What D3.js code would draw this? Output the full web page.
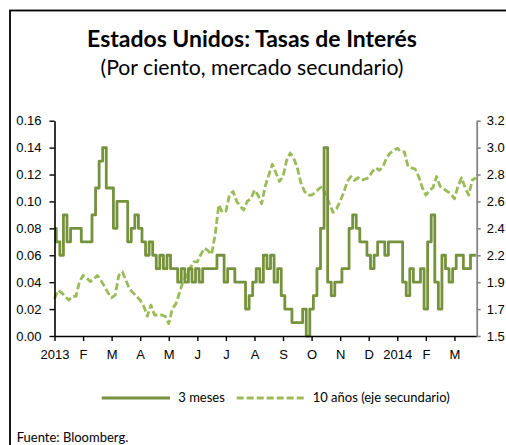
<!DOCTYPE html>
<html lang="es">
<head>
<meta charset="utf-8">
<title>Estados Unidos: Tasas de Interés</title>
<script src="https://cdn.jsdelivr.net/npm/d3@7/dist/d3.min.js"></script>
<style>
  html, body { margin: 0; padding: 0; background: #fff; }
  svg { display: block; font-family: Lato, "Open Sans", "Liberation Sans", sans-serif; }
  .axis text { font-size: 13px; fill: #000; }
  .legend text, .source { font-size: 13px; fill: #000; }
</style>
</head>
<body>
<svg id="chart" width="506" height="445"></svg>
<script>
  // ---- datos (~8 observaciones por mes, ene-2013 a mar-2014)
  const monthLabels = ["2013", "F", "M", "A", "M", "J", "J", "A", "S", "O", "N", "D", "2014", "F", "M"];
  const PER_MONTH = 8; // observaciones por mes en las series

  // 3 meses (eje izquierdo, %)
  const tres_meses = [
    0.08, 0.07, 0.06, 0.09, 0.07, 0.08, 0.08, 0.08, 0.07, 0.07,
    0.07, 0.09, 0.11, 0.13, 0.14, 0.11, 0.11, 0.08, 0.10, 0.10,
    0.10, 0.07, 0.08, 0.09, 0.08, 0.07, 0.06, 0.07, 0.06, 0.05,
    0.06, 0.05, 0.06, 0.05, 0.05, 0.04, 0.05, 0.04, 0.05, 0.04,
    0.05, 0.04, 0.05, 0.05, 0.05, 0.05, 0.06, 0.06, 0.04, 0.05,
    0.05, 0.04, 0.04, 0.04, 0.02, 0.03, 0.04, 0.05, 0.04, 0.06,
    0.05, 0.06, 0.04, 0.05, 0.03, 0.02, 0.02, 0.01, 0.01, 0.01,
    0.02, 0.00, 0.02, 0.03, 0.05, 0.08, 0.14, 0.04, 0.03, 0.04,
    0.04, 0.05, 0.05, 0.08, 0.09, 0.08, 0.07, 0.07, 0.06, 0.05,
    0.06, 0.07, 0.07, 0.06, 0.07, 0.07, 0.07, 0.07, 0.04, 0.03,
    0.05, 0.04, 0.04, 0.05, 0.02, 0.07, 0.09, 0.04, 0.02, 0.06,
    0.05, 0.04, 0.05, 0.06, 0.06, 0.05, 0.05, 0.06, 0.06,
  ];

  // 10 años (eje secundario, %)
  const diez_anos = [
    1.80, 1.87, 1.85, 1.82, 1.79, 1.82, 1.82, 1.94, 1.99, 1.97,
    1.94, 1.96, 1.99, 1.95, 1.90, 1.85, 1.81, 1.83, 1.99, 2.02,
    1.95, 1.88, 1.85, 1.82, 1.79, 1.74, 1.66, 1.75, 1.67, 1.67,
    1.67, 1.66, 1.60, 1.72, 1.76, 1.85, 1.94, 1.99, 2.05, 2.10,
    2.10, 2.16, 2.21, 2.19, 2.16, 2.32, 2.56, 2.50, 2.51, 2.64,
    2.67, 2.59, 2.55, 2.52, 2.59, 2.61, 2.68, 2.64, 2.57, 2.71,
    2.80, 2.89, 2.82, 2.75, 2.79, 2.92, 2.98, 2.94, 2.86, 2.74,
    2.67, 2.64, 2.64, 2.66, 2.69, 2.71, 2.64, 2.57, 2.50, 2.53,
    2.59, 2.66, 2.75, 2.79, 2.76, 2.78, 2.76, 2.77, 2.78, 2.83,
    2.86, 2.84, 2.87, 2.94, 2.98, 3.00, 3.02, 2.99, 2.99, 2.87,
    2.86, 2.85, 2.79, 2.70, 2.64, 2.68, 2.70, 2.79, 2.71, 2.69,
    2.67, 2.65, 2.61, 2.71, 2.78, 2.70, 2.64, 2.76, 2.78,
  ];

  // ejes
  const leftTicks = [0, 0.02, 0.04, 0.06, 0.08, 0.10, 0.12, 0.14, 0.16];
  const rightTickLabels = ["1.5", "1.7", "1.9", "2.2", "2.4", "2.6", "2.8", "3.0", "3.2"];
  const RIGHT_MIN = 1.5, RIGHT_STEP = 0.2177; // paso del eje secundario (alineado con el izquierdo)

  const COLOR_3M = "#76923c";
  const COLOR_10Y = "#9bbb59";
  const AXIS_GREY = "#868686";

  // ---- geometría
  const plot = { left: 54.5, right: 476.7, top: 120.7, bottom: 336 };
  const svg = d3.select("#chart");

  // marco exterior (sólo se ven los lados superior e izquierdo)
  svg.append("rect")
    .attr("x", 10).attr("y", 10.5).attr("width", 700).attr("height", 700)
    .attr("fill", "none").attr("stroke", "#000").attr("stroke-width", 1.8);

  // ---- escalas
  const x = d3.scaleLinear().domain([0, 14.78]).range([plot.left, plot.right]);
  const yL = d3.scaleLinear().domain([0, 0.16]).range([plot.bottom, plot.top]);
  const yR = d3.scaleLinear().domain([RIGHT_MIN, RIGHT_MIN + 8 * RIGHT_STEP]).range([plot.bottom, plot.top]);

  // ---- títulos (tamaño ajustado al ancho del original)
  function fitText(sel, targetWidth, baseSize) {
    sel.style("font-size", baseSize + "px");
    const w = sel.node().getComputedTextLength();
    sel.style("font-size", (baseSize * targetWidth / w).toFixed(2) + "px");
  }
  const title = svg.append("text").attr("x", 252).attr("y", 46.5)
    .attr("text-anchor", "middle").style("font-weight", "bold")
    .text("Estados Unidos: Tasas de Interés");
  fitText(title, 330, 20);
  const subtitle = svg.append("text").attr("x", 252).attr("y", 75)
    .attr("text-anchor", "middle")
    .text("(Por ciento, mercado secundario)");
  fitText(subtitle, 303, 20);

  // ---- series
  const idx = d3.range(tres_meses.length);
  // la tasa a 3 meses se mueve por escalones de 0.01: tramos horizontales
  const line3m = d3.line().curve(d3.curveStep)
    .x((i) => x(i / PER_MONTH)).y((i) => yL(tres_meses[i]));
  const line10y = d3.line().x((i) => x(i / PER_MONTH)).y((i) => yR(diez_anos[i]));

  svg.append("path").datum(idx).attr("d", line10y)
    .attr("fill", "none").attr("stroke", COLOR_10Y).attr("stroke-width", 2.8)
    .attr("stroke-dasharray", "7,3").attr("stroke-linejoin", "round");
  svg.append("path").datum(idx).attr("d", line3m)
    .attr("fill", "none").attr("stroke", COLOR_3M).attr("stroke-width", 2.8)
    .attr("stroke-linejoin", "round");

  // ---- ejes
  const gLeft = svg.append("g").attr("class", "axis")
    .attr("transform", `translate(${plot.left},0)`)
    .call(d3.axisLeft(yL).tickValues(leftTicks).tickFormat(d3.format(".2f"))
      .tickSize(5).tickSizeOuter(0).tickPadding(8));

  const gBottom = svg.append("g").attr("class", "axis")
    .attr("transform", `translate(0,${plot.bottom})`)
    .call(d3.axisBottom(x).tickValues(d3.range(monthLabels.length))
      .tickFormat((i) => monthLabels[i]).tickSize(5).tickSizeOuter(0).tickPadding(9));

  const gRight = svg.append("g").attr("class", "axis")
    .attr("transform", `translate(${plot.right},0)`)
    .call(d3.axisRight(yR).tickValues(d3.range(9).map((k) => RIGHT_MIN + k * RIGHT_STEP))
      .tickFormat((d, k) => rightTickLabels[k]).tickSize(4).tickSizeOuter(0).tickPadding(6));

  [gLeft, gBottom].forEach((g) => {
    g.select(".domain").attr("stroke", "#000").attr("stroke-width", 1.6);
    g.selectAll(".tick line").attr("stroke", "#000").attr("stroke-width", 1.4);
  });
  gRight.select(".domain").attr("stroke", AXIS_GREY).attr("stroke-width", 1.8);
  gRight.selectAll(".tick line").attr("stroke", AXIS_GREY).attr("stroke-width", 1.6);
  svg.selectAll(".axis text").attr("font-family", null);

  // ---- leyenda
  const legend = svg.append("g").attr("class", "legend");
  const items = [
    { label: "3 meses", color: COLOR_3M, dash: null, x0: 101.7, x1: 170, tx: 178.3 },
    { label: "10 años (eje secundario)", color: COLOR_10Y, dash: "7,3", x0: 236.7, x1: 305, tx: 312.7 },
  ];
  items.forEach((it) => {
    legend.append("line").attr("x1", it.x0).attr("x2", it.x1).attr("y1", 398).attr("y2", 398)
      .attr("stroke", it.color).attr("stroke-width", 2.8).attr("stroke-dasharray", it.dash);
    legend.append("text").attr("x", it.tx).attr("y", 402).text(it.label);
  });

  // ---- fuente
  svg.append("text").attr("class", "source").attr("x", 16.7).attr("y", 442)
    .text("Fuente: Bloomberg.");
</script>
</body>
</html>
